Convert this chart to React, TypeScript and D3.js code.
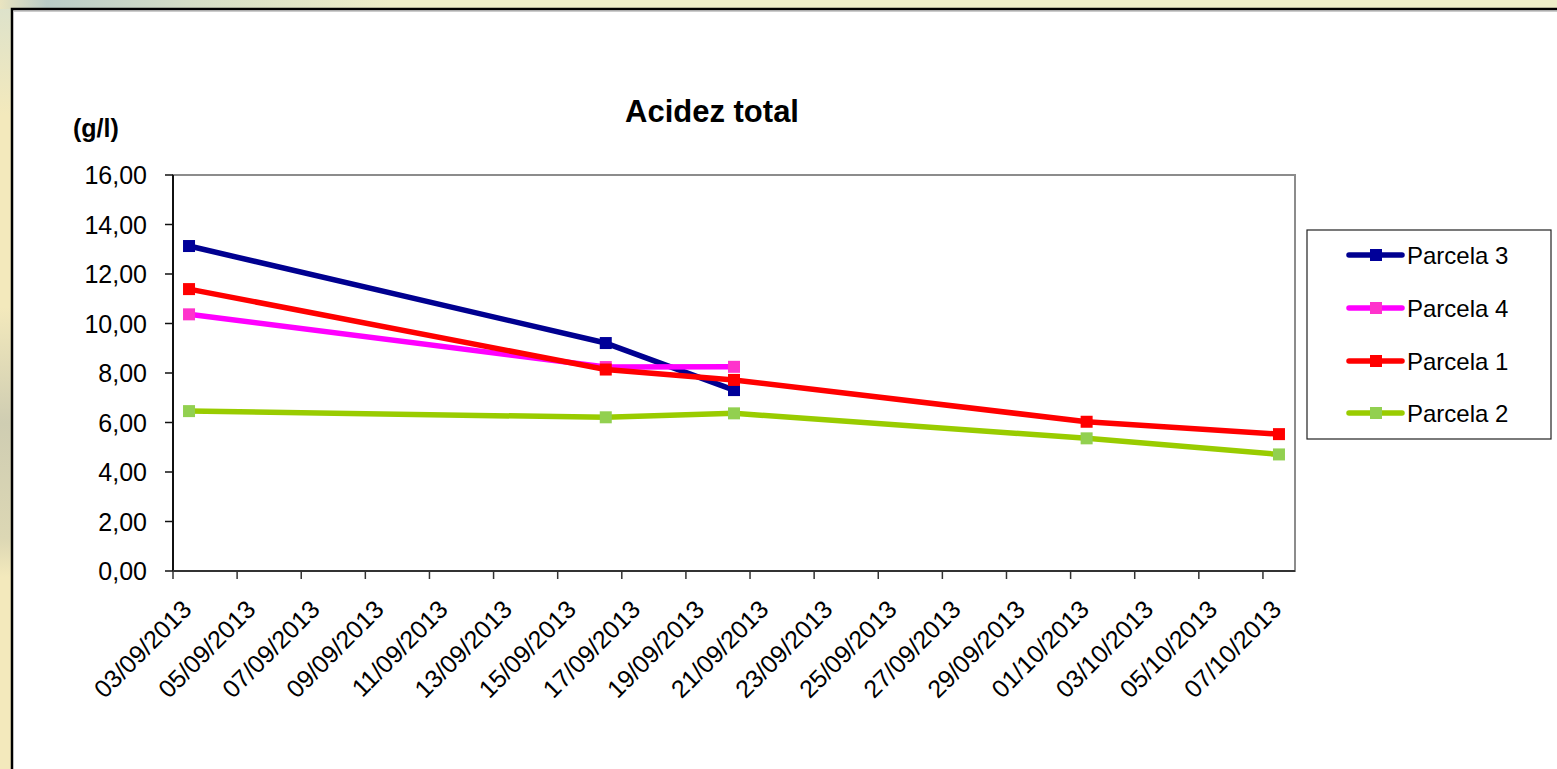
import React from "react";
import * as d3 from "d3";

const dates = ["2013-09-03", "2013-09-16", "2013-09-20", "2013-10-01", "2013-10-07"];
const parcela3 = [13.13, 9.21, 7.31, null, null];
const parcela4 = [10.37, 8.24, 8.25, null, null];
const parcela1 = [11.39, 8.14, 7.72, 6.03, 5.53];
const parcela2 = [6.46, 6.21, 6.37, 5.36, 4.71];
const seriesNames = ["Parcela 3", "Parcela 4", "Parcela 1", "Parcela 2"];
const lineColors = ["#000090", "#FF00FF", "#FF0000", "#99CC00"];
const markerColors = ["#000099", "#FF33CC", "#FF0000", "#92D050"];
const xTickLabels = [
  "03/09/2013", "05/09/2013", "07/09/2013", "09/09/2013", "11/09/2013", "13/09/2013",
  "15/09/2013", "17/09/2013", "19/09/2013", "21/09/2013", "23/09/2013", "25/09/2013",
  "27/09/2013", "29/09/2013", "01/10/2013", "03/10/2013", "05/10/2013", "07/10/2013",
];
const yTicks = [0, 2, 4, 6, 8, 10, 12, 14, 16];
const title = "Acidez total";
const yUnit = "(g/l)";

const FONT = "'Liberation Sans', Arial, sans-serif";

export default function App() {
  const W = 1557, H = 769;
  const left = 173, right = 1295, top = 175, bottom = 571;
  const parseIso = d3.utcParse("%Y-%m-%d");
  const parseTick = d3.utcParse("%d/%m/%Y");
  const x = d3.scaleUtc()
    .domain([parseIso("2013-09-03")!, parseIso("2013-10-08")!])
    .range([left, right]);
  const y = d3.scaleLinear().domain([0, 16]).range([bottom, top]);
  const allSeries = [parcela3, parcela4, parcela1, parcela2];
  const pointX = (s: string) => x(d3.utcHour.offset(parseIso(s)!, 12));
  const line = d3.line<[number, number]>().x(d => d[0]).y(d => d[1]);

  const legendX = 1307, legendY = 230, legendW = 244, legendH = 209;
  const legendRows = [255, 308, 361, 413];

  return (
    <svg width={W} height={H} style={{ position: "fixed", top: 0, left: 0 }} fontFamily={FONT}>
      <defs>
        <linearGradient id="topBg" x1="0" x2="1" y1="0" y2="0">
          <stop offset="0" stopColor="#E9E4C0" />
          <stop offset="0.03" stopColor="#B9CBC6" />
          <stop offset="0.12" stopColor="#D4DDC6" />
          <stop offset="0.25" stopColor="#EDEDC8" />
          <stop offset="1" stopColor="#EDEDC8" />
        </linearGradient>
        <linearGradient id="leftBg" x1="0" x2="0" y1="0" y2="1">
          <stop offset="0" stopColor="#DCE2CC" />
          <stop offset="0.15" stopColor="#F3E9BC" />
          <stop offset="0.4" stopColor="#F3E9BC" />
          <stop offset="0.55" stopColor="#CFCDB2" />
          <stop offset="0.7" stopColor="#DCD7B4" />
          <stop offset="0.75" stopColor="#F3E9BC" />
          <stop offset="1" stopColor="#F3E9BC" />
        </linearGradient>
      </defs>
      <rect x={0} y={0} width={W} height={H} fill="url(#leftBg)" />
      <rect x={0} y={0} width={W} height={9} fill="url(#topBg)" />
      <rect x={12} y={9} width={W + 20} height={H + 20} fill="#ffffff" stroke="#000" strokeWidth={2.5} />
      <line x1={14} x2={W} y1={11} y2={11} stroke="#9a9a9a" strokeWidth={1} />

      {/* title */}
      <text x={712} y={122} textAnchor="middle" fontSize={31} fontWeight="bold" fill="#000">{title}</text>
      <text x={73} y={137} fontSize={25} fontWeight="bold" fill="#000">{yUnit}</text>

      {/* plot area border */}
      <rect x={left} y={top} width={right - left} height={bottom - top} fill="#fff" stroke="#8c8c8c" strokeWidth={2} />
      {/* y axis */}
      <line x1={left} x2={left} y1={top} y2={bottom} stroke="#111" strokeWidth={2} />
      {yTicks.map(t => (
        <g key={t}>
          <line x1={left - 8} x2={left} y1={y(t)} y2={y(t)} stroke="#111" strokeWidth={1.5} />
          <text x={147} y={y(t) + 9} textAnchor="end" fontSize={25} fill="#000">
            {t.toFixed(2).replace(".", ",")}
          </text>
        </g>
      ))}
      {/* x axis */}
      <line x1={left} x2={right} y1={bottom} y2={bottom} stroke="#333" strokeWidth={2} />
      {xTickLabels.map(lbl => {
        const tx = x(parseTick(lbl)!);
        return (
          <g key={lbl}>
            <line x1={tx} x2={tx} y1={bottom} y2={bottom + 8} stroke="#333" strokeWidth={1.5} />
            <text transform={`translate(${tx + 20},${bottom + 40}) rotate(-45)`} textAnchor="end" fontSize={25} fill="#000">
              {lbl}
            </text>
          </g>
        );
      })}

      {/* series */}
      {allSeries.map((vals, si) => {
        const pts: [number, number][] = [];
        vals.forEach((v, i) => {
          if (v !== null && v !== undefined) pts.push([pointX(dates[i]), y(v as number)]);
        });
        return (
          <g key={si}>
            <path d={line(pts) || ""} fill="none" stroke={lineColors[si]} strokeWidth={5.5} strokeLinejoin="round" strokeLinecap="round" />
            {pts.map((p, i) => (
              <rect key={i} x={p[0] - 6} y={p[1] - 6} width={12} height={12} fill={markerColors[si]} />
            ))}
          </g>
        );
      })}

      {/* legend */}
      <rect x={legendX} y={legendY} width={legendW} height={legendH} fill="#fff" stroke="#222" strokeWidth={1.2} />
      {seriesNames.map((name, i) => (
        <g key={name}>
          <line x1={1349} x2={1402} y1={legendRows[i]} y2={legendRows[i]} stroke={lineColors[i]} strokeWidth={5.5} strokeLinecap="round" />
          <rect x={1370} y={legendRows[i] - 6} width={12} height={12} fill={markerColors[i]} />
          <text x={1407} y={legendRows[i] + 9} fontSize={24} fill="#000">{name}</text>
        </g>
      ))}
    </svg>
  );
}
